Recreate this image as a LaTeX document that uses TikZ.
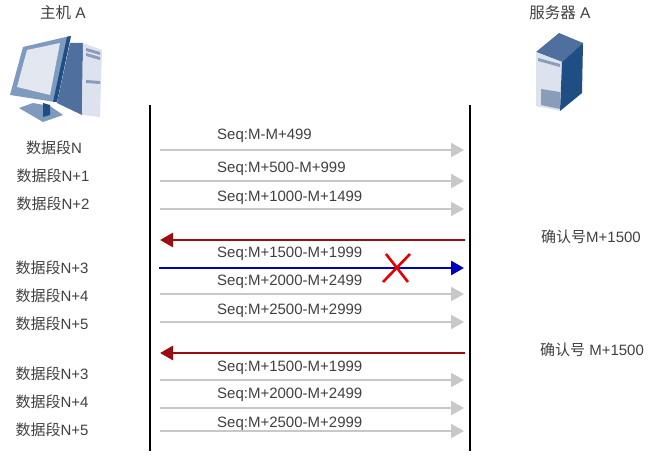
\documentclass[tikz,border=0pt]{standalone}
\usepackage{fontspec}
\setmainfont{Liberation Sans}
\newfontfamily\cjk{Noto Sans CJK SC}
\usepackage{xcolor}
\usetikzlibrary{arrows.meta}
\definecolor{labelgray}{HTML}{404040}
\definecolor{arcgray}{HTML}{C8C8C8}
\definecolor{ackred}{HTML}{9A0E12}
\definecolor{lostblue}{HTML}{0000C0}
\definecolor{iconnavy}{HTML}{1F4E85}
\definecolor{iconsteel}{HTML}{7F9ABF}
\definecolor{iconmid}{HTML}{4F6F9F}
\definecolor{iconpale}{HTML}{DCE3EE}
\definecolor{iconscreen}{HTML}{E3E7EF}
\definecolor{icongrill}{HTML}{8A9DB8}
\tikzset{
  lifeline/.style={line width=2.6pt, black},
  dataarc/.style={-{Triangle[length=13pt,width=14pt]}, line width=2.4pt, draw=arcgray},
  ackarc/.style={-{Triangle[length=13pt,width=14pt]}, line width=2.8pt, draw=ackred},
  lostarc/.style={-{Triangle[length=13pt,width=14pt]}, line width=2.8pt, draw=lostblue},
  seqlabel/.style={anchor=west, inner sep=0pt, font=\fontsize{15}{15}\selectfont, text=labelgray},
  seglabel/.style={inner sep=0pt, font=\fontsize{15}{15}\selectfont, text=labelgray},
  hostlabel/.style={inner sep=0pt, font=\fontsize{15.5}{16}\selectfont, text=labelgray}
}

\begin{document}
\begin{tikzpicture}[x=1pt,y=-1pt]
  \useasboundingbox (0,0) rectangle (655,457);

  % host A
  \fill[iconmid] (70,43) -- (83,43) -- (82,115) -- (57,103) -- cycle;
  \fill[iconpale] (83,43) -- (102,50) -- (100,117) -- (82,115) -- cycle;
  \fill[iconsteel] (19,108) -- (33,103) -- (50,106) -- (63,115) -- (43,122) -- cycle;
  \fill[iconnavy] (43,103) -- (50,105) -- (50,115) -- (43,117) -- cycle;
  \fill[iconsteel] (23,47) -- (70,36) -- (55,102) -- (10,95) -- cycle;
  \fill[iconnavy] (67,37) -- (71,36) -- (57,102) -- (53,102) -- cycle;
  \fill[iconscreen] (27,50) -- (60,43) -- (50,95) -- (17,87) -- cycle;
  \fill[icongrill] (86,48) -- (100,52) -- (100,55) -- (86,51) -- cycle;
  \fill[icongrill] (86,53) -- (100,57) -- (100,60) -- (86,56) -- cycle;
  \fill[icongrill] (86,80) -- (100,81) -- (100,84) -- (86,83) -- cycle;

  % server A
  \fill[iconmid] (536,52) -- (559,33) -- (583,43) -- (562,62) -- cycle;
  \fill[iconpale] (536,52) -- (562,62) -- (560,111) -- (536,106) -- cycle;
  \fill[iconnavy] (562,62) -- (583,43) -- (582,93) -- (560,111) -- cycle;
  \fill[icongrill] (538,58) -- (560,64) -- (560,67) -- (538,61) -- cycle;
  \fill[icongrill] (541,89) -- (560,92) -- (560,109) -- (541,105) -- cycle;

  \node[hostlabel] (hostname) at (63,13) {{\cjk 主机} A};
  \node[hostlabel] (servername) at (560,13) {{\cjk 服务器} A};

  \coordinate (hosttop) at (150,105);
  \coordinate (hostbot) at (150,451);
  \coordinate (servertop) at (470,105);
  \coordinate (serverbot) at (470,451);
  \draw[lifeline] (hosttop) -- (hostbot);
  \draw[lifeline] (servertop) -- (serverbot);

  \node[seglabel] (segn) at (54,148) {{\cjk 数据段}N};
  \node[seglabel] (segna) at (53,176) {{\cjk 数据段}N+1};
  \node[seglabel] (segnb) at (53,204) {{\cjk 数据段}N+2};
  \node[seglabel] (segnc) at (52,268) {{\cjk 数据段}N+3};
  \node[seglabel] (segnd) at (52,296) {{\cjk 数据段}N+4};
  \node[seglabel] (segne) at (52,324) {{\cjk 数据段}N+5};
  \node[seglabel] (segnf) at (52,374) {{\cjk 数据段}N+3};
  \node[seglabel] (segng) at (52,402) {{\cjk 数据段}N+4};
  \node[seglabel] (segnh) at (52,430) {{\cjk 数据段}N+5};

  \node[seglabel] (acka) at (591,237) {{\cjk 确认号}M+1500};
  \node[seglabel] (ackb) at (592,350) {{\cjk 确认号} M+1500};

  \node[seqlabel] (seqa) at (217,136) {Seq:M-M+499};
  \node[seqlabel] (seqb) at (217,169) {Seq:M+500-M+999};
  \node[seqlabel] (seqc) at (217,198) {Seq:M+1000-M+1499};
  \node[seqlabel] (seqd) at (217,254) {Seq:M+1500-M+1999};
  \node[seqlabel] (seqe) at (217,282) {Seq:M+2000-M+2499};
  \node[seqlabel] (seqf) at (217,311) {Seq:M+2500-M+2999};
  \node[seqlabel] (seqg) at (217,368) {Seq:M+1500-M+1999};
  \node[seqlabel] (seqh) at (217,395) {Seq:M+2000-M+2499};
  \node[seqlabel] (seqi) at (217,424) {Seq:M+2500-M+2999};

  \coordinate (fa) at (160,150);  \coordinate (ta) at (464,150);
  \coordinate (fb) at (160,181);  \coordinate (tb) at (464,181);
  \coordinate (fc) at (160,209);  \coordinate (tc) at (464,209);
  \coordinate (fd) at (465,240);  \coordinate (td) at (160,240);
  \coordinate (fe) at (159,268);  \coordinate (te) at (464,268);
  \coordinate (ff) at (160,294);  \coordinate (tf) at (464,294);
  \coordinate (fg) at (160,322);  \coordinate (tg) at (464,322);
  \coordinate (fh) at (465,353);  \coordinate (th) at (160,353);
  \coordinate (fi) at (160,380);  \coordinate (ti) at (464,380);
  \coordinate (fj) at (160,408);  \coordinate (tj) at (464,408);
  \coordinate (fk) at (160,431);  \coordinate (tk) at (464,431);

  \draw[dataarc] (fa) -- (ta);
  \draw[dataarc] (fb) -- (tb);
  \draw[dataarc] (fc) -- (tc);
  \draw[ackarc] (fd) -- (td);
  \draw[lostarc] (fe) -- (te);
  \draw[dataarc] (ff) -- (tf);
  \draw[dataarc] (fg) -- (tg);
  \draw[ackarc] (fh) -- (th);
  \draw[dataarc] (fi) -- (ti);
  \draw[dataarc] (fj) -- (tj);
  \draw[dataarc] (fk) -- (tk);

  % lost segment
  \draw[line width=2.6pt, red!90!black] (383,282) -- (410,254);
  \draw[line width=2.6pt, red!90!black] (386,254) -- (408,282);
\end{tikzpicture}
\end{document}
